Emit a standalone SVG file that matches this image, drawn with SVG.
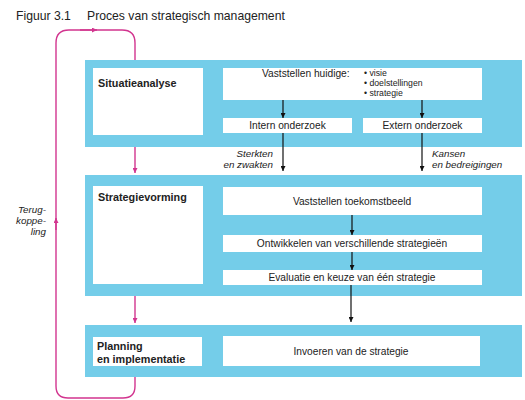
<svg xmlns="http://www.w3.org/2000/svg" width="525" height="400" viewBox="0 0 525 400">
<style>
text{font-family:"Liberation Sans",Arial,sans-serif;fill:#222;}
.band{fill:#74cde9;}
.box{fill:#fff;}
.t{font-size:10.2px;}
.c{text-anchor:middle;}
.bl{font-size:8.7px;}
.b{font-weight:bold;font-size:10.8px;}
.i{font-style:italic;font-size:9.8px;}
.r{text-anchor:end;}
.k{stroke:#111;stroke-width:1.2;fill:none;}
.m{stroke:#d2358f;stroke-width:1.4;fill:none;}
</style>
<defs>
<marker id="ak" viewBox="0 0 10 10" refX="10" refY="5" markerWidth="5" markerHeight="5" markerUnits="userSpaceOnUse" orient="auto"><path d="M0,0L10,5L0,10z" fill="#111"/></marker>
<marker id="am" viewBox="0 0 10 10" refX="10" refY="5" markerWidth="5" markerHeight="5" markerUnits="userSpaceOnUse" orient="auto"><path d="M0,0L10,5L0,10z" fill="#d2358f"/></marker>
</defs>
<text x="16" y="20" style="font-size:12.2px">Figuur 3.1</text>
<text x="87" y="20" style="font-size:12.2px">Proces van strategisch management</text>

<g id="connectors">
<path class="m" d="M135,60 V43 Q135,30 122,30 H69 Q56,30 56,43 V386 Q56,398 68,398 H123 Q135,398 135,386 V377"/>
<path class="m" d="M56,230 V218" marker-end="url(#am)"/>
<path class="m" d="M80,30 H97" marker-end="url(#am)"/>
<path class="m" d="M135,147 V173" marker-end="url(#am)"/>
<path class="m" d="M135,296 V323" marker-end="url(#am)"/>
</g>

<g id="situatieanalyse">
<rect class="band" x="85" y="60" width="437" height="87"/>
<rect class="box" x="93" y="68" width="110" height="67"/>
<text class="b" x="98" y="87">Situatieanalyse</text>
</g>
<g id="vaststellen-huidige">
<rect class="box" x="223" y="68" width="259" height="32"/>
<text class="t" x="262" y="77">Vaststellen huidige:</text>
<text class="bl" x="364" y="76.2"><tspan x="364">• visie</tspan><tspan x="364" dy="9.8">• doelstellingen</tspan><tspan x="364" dy="9.8">• strategie</tspan></text>
</g>
<g id="intern-onderzoek">
<rect class="box" x="223" y="118" width="129" height="15"/>
<text class="t c" x="287.5" y="129">Intern onderzoek</text>
</g>
<g id="extern-onderzoek">
<rect class="box" x="363" y="118" width="119" height="15"/>
<text class="t c" x="422.5" y="129">Extern onderzoek</text>
</g>

<g id="strategievorming">
<rect class="band" x="85" y="175" width="437" height="121"/>
<rect class="box" x="93" y="186" width="110" height="98"/>
<text class="b" x="98" y="201">Strategievorming</text>
</g>
<g id="toekomstbeeld">
<rect class="box" x="223" y="187" width="259" height="28"/>
<text class="t c" x="352" y="205">Vaststellen toekomstbeeld</text>
</g>
<g id="ontwikkelen">
<rect class="box" x="223" y="235" width="259" height="17"/>
<text class="t c" x="352" y="247">Ontwikkelen van verschillende strategieën</text>
</g>
<g id="evaluatie">
<rect class="box" x="223" y="270" width="259" height="15"/>
<text class="t c" x="352" y="281">Evaluatie en keuze van één strategie</text>
</g>

<g id="planning">
<rect class="band" x="85" y="325" width="437" height="52"/>
<rect class="box" x="93" y="337" width="109" height="29"/>
<text class="b" x="97" y="350"><tspan x="97">Planning</tspan><tspan x="97" dy="12.5">en implementatie</tspan></text>
</g>
<g id="invoeren">
<rect class="box" x="223" y="336" width="257" height="30"/>
<text class="t c" x="351" y="354.5">Invoeren van de strategie</text>
</g>

<g id="labels">
<text class="i r" x="273" y="156.5"><tspan x="273">Sterkten</tspan><tspan x="273" dy="11">en zwakten</tspan></text>
<text class="i" x="432" y="156.5"><tspan x="432">Kansen</tspan><tspan x="432" dy="11">en bedreigingen</tspan></text>
<text class="i r" x="46" y="213"><tspan x="46">Terug-</tspan><tspan x="46" dy="11">koppe-</tspan><tspan x="46" dy="11">ling</tspan></text>
</g>

<g id="arrows">
<path class="k" d="M283,100 V118" marker-end="url(#ak)"/>
<path class="k" d="M422,100 V118" marker-end="url(#ak)"/>
<path class="k" d="M283,133 V171" marker-end="url(#ak)"/>
<path class="k" d="M422,133 V171" marker-end="url(#ak)"/>
<path class="k" d="M352,215 V235" marker-end="url(#ak)"/>
<path class="k" d="M352,252 V270" marker-end="url(#ak)"/>
<path class="k" d="M351,285 V322" marker-end="url(#ak)"/>
</g>
</svg>
